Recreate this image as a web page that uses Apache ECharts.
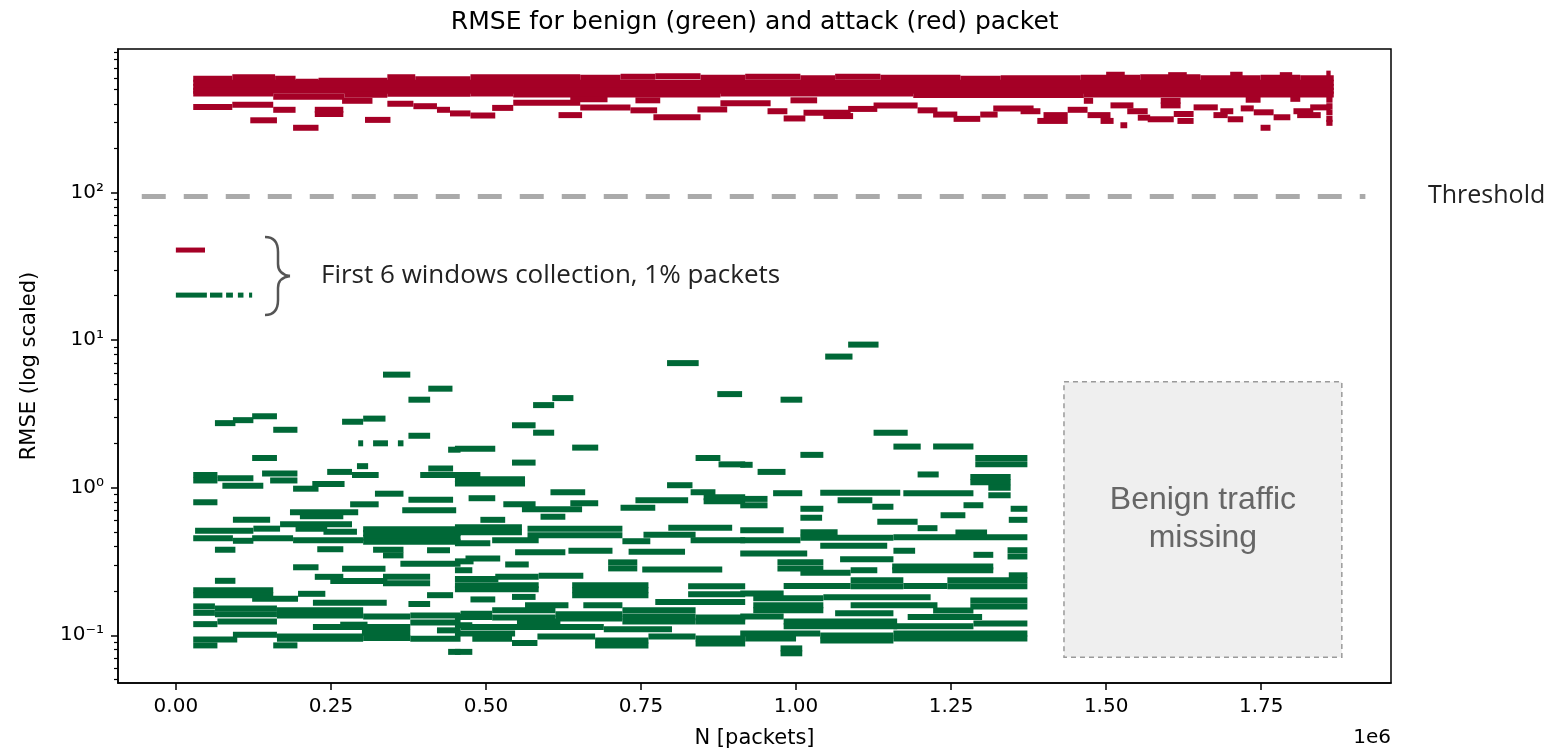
<!DOCTYPE html>
<html><head><meta charset="utf-8">
<script src="https://cdn.jsdelivr.net/npm/echarts@6/dist/echarts.min.js"></script>
<style>html,body{margin:0;padding:0;background:#fff}#c{width:1553px;height:754px}</style>
</head><body><div id="c"></div><script>
// x in units of 1e6 packets, y = RMSE. Each segment: [xStart, xEnd, rmse]
const xTicks = [0, 0.25, 0.5, 0.75, 1.0, 1.25, 1.5, 1.75];
const yMajorTicks = [0.1, 1, 10, 100];
const yMinorTicks = [0.05,0.06,0.07,0.08,0.09,0.2,0.3,0.4,0.5,0.6,0.7,0.8,0.9,2,3,4,5,6,7,8,9,20,30,40,50,60,70,80,90,200,300,400,500,600,700,800,900];
const thresholdValue = 94;
const thresholdSpan = [-0.055, 1.918];
const missingBox = [1.432, 1.880, 5.22, 0.0711];

const redFirstWindows = [[0.0, 0.047, 40.8]];
const greenFirstWindows = [[0.0,0.050,20.2],[0.055,0.075,20.2],[0.081,0.092,20.2],[0.100,0.109,20.2],[0.118,0.123,20.2]];

const redMain = [
 [0.028,0.091,591],[0.091,0.160,605],[0.160,0.193,591],[0.193,0.230,564],[0.230,0.341,573],[0.341,0.386,605],
 [0.386,0.475,586],[0.475,0.652,605],[0.652,0.717,600],[0.717,0.773,609],[0.773,0.846,614],[0.846,0.918,600],
 [0.918,1.007,609],[1.007,1.063,595],[1.063,1.136,609],[1.136,1.265,600],[1.265,1.330,591],[1.330,1.459,595],
 [1.459,1.555,600],[1.555,1.652,605],[1.652,1.749,595],[1.749,1.813,600],[1.813,1.867,595],
 [1.50,1.53,629],[1.60,1.63,625],[1.70,1.72,629],[1.78,1.80,625],[1.855,1.862,640],
 [0.028,1.867,555],[0.028,1.867,520],[0.028,1.867,490],
 [0.028,0.157,470],[0.157,0.272,446],[0.272,0.341,460],[0.341,0.475,467],[0.475,0.544,470],[0.544,0.878,462],
 [0.878,1.189,470],[1.189,1.464,458],[1.464,1.867,462],
 [1.464,1.479,419],[1.588,1.620,419],[1.725,1.749,426],[1.797,1.813,432]
];
const redLower = [
 [0.028,0.091,381],[0.091,0.157,394],[0.157,0.193,364],[0.224,0.270,364],[0.224,0.270,341],[0.268,0.317,419],
 [0.341,0.383,400],[0.383,0.421,385],[0.421,0.442,364],[0.442,0.475,344],[0.475,0.515,333],[0.510,0.544,375],
 [0.544,0.652,406],[0.617,0.655,335],[0.120,0.163,309],[0.189,0.230,275],[0.305,0.346,311],[0.636,0.696,429],
 [0.652,0.733,378],[0.733,0.776,361],[0.741,0.781,422],[0.770,0.846,324],[0.841,0.889,366],[0.878,0.959,403],
 [0.954,0.986,356],[0.980,1.015,318],[0.991,1.034,422],[1.012,1.088,347],[1.044,1.092,330],[1.084,1.131,369],
 [1.125,1.196,390],[1.196,1.228,361],[1.221,1.260,338],[1.254,1.297,316],[1.297,1.325,338],[1.318,1.383,372],
 [1.362,1.394,356],[1.389,1.438,306],[1.399,1.438,335],[1.438,1.470,364],[1.470,1.507,335],[1.491,1.512,306],
 [1.507,1.544,390],[1.523,1.534,286],[1.534,1.567,356],[1.551,1.571,322],[1.567,1.609,314],[1.588,1.620,390],
 [1.609,1.641,341],[1.615,1.641,306],[1.641,1.680,378],[1.673,1.696,335],[1.684,1.705,356],[1.696,1.721,314],
 [1.717,1.738,372],[1.738,1.770,350],[1.749,1.765,275],[1.770,1.797,324],[1.802,1.834,356],[1.808,1.846,335],
 [1.829,1.862,378],[1.855,1.865,426],[1.855,1.865,385],[1.855,1.865,350],[1.855,1.865,316],[1.855,1.865,297]
];

const greenLeft = [
 [0.334,0.378,5.84],[0.407,0.446,4.69],[0.375,0.410,3.95],[0.063,0.096,2.74],[0.092,0.125,2.87],[0.123,0.163,3.05],
 [0.157,0.196,2.47],[0.268,0.302,2.80],[0.302,0.338,2.94],[0.375,0.410,2.25],[0.294,0.302,2.0],[0.318,0.342,2.0],
 [0.358,0.367,2.0],[0.439,0.459,1.81],[0.123,0.163,1.59],[0.292,0.310,1.40],[0.028,0.067,1.22],[0.028,0.067,1.12],
 [0.067,0.125,1.16],[0.075,0.141,1.03],[0.139,0.196,1.25],[0.152,0.196,1.12],[0.189,0.230,0.985],[0.220,0.272,1.06],
 [0.244,0.284,1.28],[0.284,0.327,1.22],[0.321,0.367,0.911],[0.375,0.447,0.830],[0.407,0.447,1.35],[0.394,0.459,1.22],
 [0.028,0.067,0.797],[0.281,0.327,0.772],[0.365,0.452,0.704],[0.184,0.294,0.682],[0.200,0.270,0.641],[0.092,0.152,0.606],
 [0.168,0.284,0.565],[0.031,0.125,0.511],[0.125,0.168,0.528],[0.193,0.244,0.528],[0.238,0.292,0.504],[0.302,0.459,0.524],
 [0.302,0.459,0.494],[0.028,0.092,0.454],[0.092,0.125,0.437],[0.123,0.189,0.454],[0.189,0.302,0.440],[0.302,0.459,0.458],
 [0.302,0.459,0.431],[0.063,0.096,0.380],[0.228,0.270,0.383],[0.318,0.367,0.380],[0.334,0.367,0.348],[0.405,0.442,0.377],
 [0.189,0.230,0.289],[0.268,0.338,0.282],[0.362,0.459,0.305],[0.224,0.270,0.249],[0.249,0.341,0.233],[0.334,0.410,0.249],
 [0.334,0.410,0.225],[0.063,0.096,0.234],[0.028,0.157,0.202],[0.028,0.157,0.187],[0.123,0.197,0.177],[0.197,0.241,0.191],
 [0.375,0.410,0.163],[0.405,0.447,0.187],[0.028,0.063,0.157],[0.063,0.163,0.152],[0.063,0.163,0.139],[0.163,0.302,0.148],
 [0.163,0.302,0.136],[0.302,0.378,0.134],[0.378,0.459,0.136],[0.378,0.459,0.122],[0.028,0.063,0.142],[0.028,0.067,0.119],
 [0.067,0.163,0.124],[0.221,0.378,0.114],[0.265,0.309,0.118],[0.421,0.459,0.108],[0.028,0.099,0.0938],[0.092,0.163,0.101],
 [0.163,0.302,0.0983],[0.163,0.302,0.0946],[0.302,0.378,0.0960],[0.378,0.459,0.0946],[0.028,0.067,0.0854],[0.157,0.196,0.0854],
 [0.439,0.459,0.0772],[0.221,0.340,0.166],[0.300,0.378,0.104]
];
const greenMiddle = [
 [0.792,0.843,6.99],[0.873,0.913,4.31],[0.607,0.641,4.05],[0.576,0.610,3.63],[0.542,0.580,2.65],[0.576,0.610,2.36],
 [0.450,0.515,1.84],[0.639,0.681,1.87],[0.542,0.580,1.48],[0.838,0.878,1.59],[0.875,0.918,1.44],[0.450,0.491,1.22],
 [0.450,0.563,1.14],[0.450,0.563,1.07],[0.604,0.660,0.932],[0.792,0.833,1.04],[0.830,0.870,0.932],[0.472,0.515,0.849],
 [0.528,0.580,0.772],[0.636,0.681,0.785],[0.741,0.826,0.823],[0.851,0.918,0.862],[0.851,0.918,0.810],[0.717,0.773,0.731],
 [0.558,0.655,0.714],[0.588,0.628,0.636],[0.491,0.531,0.606],[0.450,0.558,0.540],[0.450,0.558,0.500],[0.567,0.720,0.528],
 [0.567,0.720,0.476],[0.754,0.838,0.481],[0.794,0.897,0.536],[0.450,0.507,0.420],[0.510,0.585,0.440],[0.720,0.765,0.434],
 [0.830,0.918,0.440],[0.467,0.523,0.332],[0.531,0.569,0.302],[0.547,0.628,0.365],[0.633,0.704,0.374],[0.730,0.821,0.368],
 [0.697,0.744,0.312],[0.697,0.744,0.284],[0.752,0.881,0.279],[0.450,0.480,0.317],[0.450,0.478,0.276],[0.450,0.520,0.241],
 [0.515,0.585,0.249],[0.585,0.657,0.253],[0.450,0.585,0.218],[0.450,0.585,0.205],[0.542,0.580,0.182],[0.639,0.762,0.218],
 [0.639,0.762,0.202],[0.639,0.762,0.187],[0.826,0.918,0.215],[0.826,0.918,0.190],[0.475,0.515,0.175],[0.563,0.633,0.160],
 [0.657,0.720,0.160],[0.773,0.918,0.168],[0.450,0.510,0.133],[0.510,0.612,0.148],[0.510,0.612,0.132],[0.612,0.720,0.139],
 [0.612,0.720,0.130],[0.720,0.838,0.148],[0.720,0.838,0.134],[0.720,0.838,0.124],[0.838,0.918,0.132],[0.838,0.918,0.124],
 [0.450,0.478,0.117],[0.450,0.547,0.103],[0.542,0.583,0.0887],[0.583,0.676,0.0983],[0.676,0.762,0.0923],[0.676,0.762,0.0854],
 [0.762,0.838,0.0983],[0.838,0.918,0.0953],[0.838,0.918,0.0880],[0.450,0.478,0.0772],
 [0.478,0.542,0.0946],[0.459,0.690,0.114],[0.459,0.510,0.140],[0.550,0.620,0.124],[0.690,0.800,0.110]
];
const greenRight = [
 [1.084,1.133,9.33],[1.047,1.091,7.74],[0.975,1.010,3.95],[1.125,1.180,2.36],[1.157,1.201,1.90],[1.221,1.286,1.90],
 [1.007,1.044,1.67],[0.910,0.930,1.43],[0.938,0.983,1.28],[1.289,1.373,1.59],[1.289,1.373,1.44],[1.196,1.230,1.23],
 [1.281,1.346,1.18],[1.281,1.346,1.09],[1.310,1.346,1.00],[1.310,1.346,0.889],[0.963,1.010,0.918],[1.039,1.168,0.925],
 [1.173,1.286,0.918],[1.067,1.123,0.823],[0.910,0.954,0.84],[0.910,0.954,0.76],[1.007,1.044,0.720],[1.123,1.157,0.743],
 [1.270,1.302,0.761],[1.346,1.373,0.720],[1.007,1.042,0.626],[1.233,1.273,0.651],[1.343,1.373,0.606],[1.131,1.196,0.588],
 [1.196,1.228,0.532],[0.910,0.980,0.515],[1.007,1.067,0.500],[0.910,1.007,0.440],[1.007,1.157,0.458],[1.039,1.147,0.404],
 [1.157,1.373,0.461],[1.257,1.308,0.497],[0.910,1.018,0.359],[1.071,1.157,0.327],[1.157,1.192,0.374],[1.286,1.318,0.351],
 [1.341,1.373,0.377],[1.341,1.373,0.342],[0.970,1.044,0.312],[0.970,1.044,0.284],[1.007,1.088,0.265],[1.088,1.131,0.276],
 [1.155,1.318,0.293],[1.155,1.318,0.276],[1.343,1.373,0.255],[0.980,1.088,0.216],[1.088,1.173,0.236],[1.088,1.173,0.215],
 [1.173,1.244,0.216],[1.244,1.373,0.236],[1.244,1.373,0.215],[0.910,0.980,0.192],[1.044,1.217,0.181],[0.931,1.044,0.178],
 [0.931,1.044,0.160],[0.931,1.044,0.148],[1.088,1.228,0.160],[1.221,1.286,0.147],[1.281,1.373,0.172],[1.281,1.373,0.157],
 [1.063,1.157,0.141],[0.910,0.980,0.134],[0.980,1.163,0.124],[0.980,1.163,0.115],[1.157,1.286,0.115],[1.286,1.373,0.120],
 [0.910,1.039,0.103],[1.039,1.157,0.0998],[1.039,1.157,0.0923],[1.157,1.373,0.103],[1.157,1.373,0.0953],[0.975,1.010,0.0815],
 [0.975,1.010,0.0755],[1.180,1.300,0.133],[0.918,1.000,0.0953]
];

const RED = '#a50026', GREEN = '#006837';
const FONT = 'DejaVu Sans';
const supMap = {'2':'²','1':'¹','0':'⁰','-1':'⁻¹'};

function segRender(h) {
  return function (params, api) {
    const a = api.coord([api.value(0), api.value(2)]);
    const b = api.coord([api.value(1), api.value(2)]);
    return { type: 'rect', shape: { x: a[0], y: a[1] - h / 2, width: Math.max(b[0] - a[0], 2), height: h },
      style: { fill: api.visual('color') } };
  };
}
function segSeries(data, color, h) {
  return { type: 'custom', data: data, renderItem: segRender(h), encode: { x: [0, 1], y: 2 },
    itemStyle: { color: color }, silent: true, animation: false, clip: true };
}
const braceStyle = { stroke: '#555', lineWidth: 2.5, fill: null };

const chart = echarts.init(document.getElementById('c'), null, { renderer: 'canvas' });
chart.setOption({
  animation: false,
  backgroundColor: '#fff',
  grid: { left: 118, right: 162, top: 49, bottom: 71, show: true, borderColor: '#000', borderWidth: 1.5,
          backgroundColor: 'transparent', containLabel: false },
  xAxis: {
    type: 'value', min: -0.0933, max: 1.9593,
    name: 'N [packets]', nameLocation: 'middle', nameGap: 45,
    nameTextStyle: { fontFamily: FONT, fontSize: 21, color: '#000' },
    axisLine: { show: true, onZero: false, lineStyle: { color: '#000', width: 1.5 } },
    axisTick: { show: true, length: 7, customValues: xTicks, lineStyle: { color: '#000', width: 1.5 } },
    axisLabel: { customValues: xTicks, margin: 14, fontFamily: FONT, fontSize: 20, color: '#000',
                 formatter: v => Number(v).toFixed(2) },
    splitLine: { show: false }
  },
  yAxis: [{
    type: 'log', logBase: 10, min: 0.0475, max: 940,
    name: 'RMSE (log scaled)', nameLocation: 'middle', nameGap: 78, nameRotate: 90,
    nameTextStyle: { fontFamily: FONT, fontSize: 21, color: '#000' },
    axisLine: { show: true, onZero: false, lineStyle: { color: '#000', width: 1.5 } },
    axisTick: { show: true, length: 7, customValues: yMajorTicks, lineStyle: { color: '#000', width: 1.5 } },
    axisLabel: { customValues: yMajorTicks, margin: 14, fontFamily: FONT, fontSize: 20, color: '#000',
                 formatter: v => '10' + supMap[String(Math.round(Math.log10(v)))] },
    splitLine: { show: false }
  }, {
    type: 'log', logBase: 10, min: 0.0475, max: 940, position: 'left',
    axisLine: { show: false, onZero: false },
    axisTick: { show: true, length: 4, customValues: yMinorTicks, lineStyle: { color: '#000', width: 1.2 } },
    axisLabel: { show: false },
    splitLine: { show: false }
  }],
  series: [
    {
      type: 'line', data: [[thresholdSpan[0], thresholdValue], [thresholdSpan[1], thresholdValue]],
      symbol: 'none', silent: true, z: 1,
      lineStyle: { color: '#aaaaaa', width: 5, type: [24, 18] },
      markArea: {
        silent: true,
        itemStyle: { color: '#efefef', borderColor: '#9a9a9a', borderWidth: 1.5, borderType: [5, 4] },
        label: { show: true, position: 'inside', formatter: 'Benign traffic\nmissing', fontFamily: 'Liberation Sans',
                 fontSize: 32, lineHeight: 38, color: '#666', align: 'center' },
        data: [[{ coord: [missingBox[0], missingBox[2]] }, { coord: [missingBox[1], missingBox[3]] }]]
      }
    },
    segSeries(redMain, RED, 6),
    segSeries(redLower, RED, 6),
    segSeries(redFirstWindows, RED, 5),
    segSeries(greenLeft, GREEN, 6),
    segSeries(greenMiddle, GREEN, 6),
    segSeries(greenRight, GREEN, 6),
    segSeries(greenFirstWindows, GREEN, 5)
  ],
  graphic: [
    { type: 'text', x: 754.7, y: 22, style: { text: 'RMSE for benign (green) and attack (red) packet', fontFamily: FONT,
      fontSize: 25, fill: '#000', align: 'center', verticalAlign: 'middle' } },
    { type: 'text', x: 1391, y: 738, style: { text: '1e6', fontFamily: FONT, fontSize: 20, fill: '#000',
      align: 'right', verticalAlign: 'middle' } },
    { type: 'text', x: 1428, y: 196, style: { text: 'Threshold', fontFamily: 'Open Sans', fontSize: 25, fill: '#222',
      align: 'left', verticalAlign: 'middle' } },
    { type: 'text', x: 321, y: 276, style: { text: 'First 6 windows collection, 1% packets', fontFamily: 'Open Sans',
      fontSize: 26, fill: '#222', align: 'left', verticalAlign: 'middle' } },
    { type: 'bezierCurve', shape: { x1: 265, y1: 237, cpx1: 274, cpy1: 237, cpx2: 278, cpy2: 242, x2: 278, y2: 252 }, style: braceStyle },
    { type: 'line', shape: { x1: 278, y1: 252, x2: 278, y2: 264 }, style: braceStyle },
    { type: 'bezierCurve', shape: { x1: 278, y1: 264, cpx1: 278, cpy1: 271, cpx2: 282, cpy2: 275, x2: 290, y2: 276 }, style: braceStyle },
    { type: 'bezierCurve', shape: { x1: 290, y1: 276, cpx1: 282, cpy1: 277, cpx2: 278, cpy2: 281, x2: 278, y2: 288 }, style: braceStyle },
    { type: 'line', shape: { x1: 278, y1: 288, x2: 278, y2: 300 }, style: braceStyle },
    { type: 'bezierCurve', shape: { x1: 278, y1: 300, cpx1: 278, cpy1: 310, cpx2: 274, cpy2: 315, x2: 265, y2: 315 }, style: braceStyle }
  ]
});
</script></body></html>
